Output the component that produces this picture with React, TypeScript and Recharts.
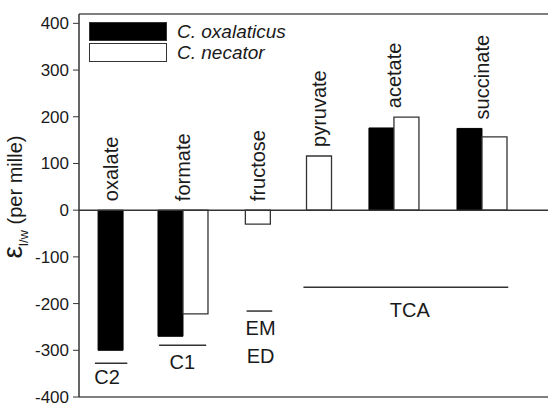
import { Bar, BarChart, Legend, ReferenceDot, ReferenceLine, XAxis, YAxis } from "recharts";

const substrates = ["oxalate", "formate", "fructose", "pyruvate", "acetate", "succinate"];
const substrateX = [1, 1.98, 3, 4, 5.43, 6.87];
const oxalaticus = [-300, -270, null, null, 176, 175];
const necator = [null, -222, -30, 116, 199, 157];
const yTicks = [-400, -300, -200, -100, 0, 100, 200, 300, 400];
const seriesNames = ["C. oxalaticus", "C. necator"];

const FONT = "'Liberation Sans', Arial, sans-serif";
const INK = "#1a1a1a";

// brackets under the bars that group the substrates by pathway
const groupMarks = [
  { lines: ["C2"], x1: 0.54, x2: 1.07, lineY: -328, textX: 0.74, textY: -357 },
  { lines: ["C1"], x1: 1.59, x2: 2.36, lineY: -289, textX: 1.97, textY: -325 },
  { lines: ["EM", "ED"], x1: 3.02, x2: 3.44, lineY: -216, textX: 3.25, textY: -253 },
  { lines: ["TCA"], x1: 3.95, x2: 7.3, lineY: -165, textX: 5.69, textY: -214 },
];

const data = substrates.map((name, i) => ({
  name,
  x: substrateX[i],
  oxalaticus: oxalaticus[i],
  necator: necator[i],
  top: Math.max(0, oxalaticus[i] ?? 0, necator[i] ?? 0),
  shift: necator[i] == null ? -12.5 : oxalaticus[i] == null ? 12.5 : 0,
}));

function YTitle() {
  return (
    <text
      transform="translate(22,197) rotate(-90)"
      textAnchor="middle"
      fontFamily={FONT}
      fontSize={20}
      fill={INK}
    >
      <tspan fontSize={28}>ε</tspan>
      <tspan fontSize={13} dy={6}>l/w</tspan>
      <tspan dy={-6}> (per mille)</tspan>
    </text>
  );
}

function LegendBox() {
  return (
    <div style={{ fontFamily: FONT, fontSize: 19, fontStyle: "italic", color: INK }}>
      {seriesNames.map((s, i) => (
        <div key={s} style={{ display: "flex", alignItems: "center", height: 21 }}>
          <span
            style={{
              display: "inline-block",
              width: 76,
              height: 17,
              background: i === 0 ? "#000" : "#fff",
              border: "1px solid #333",
              marginRight: 10,
            }}
          />
          {s}
        </div>
      ))}
    </div>
  );
}

export default function App() {
  return (
    <div style={{ position: "absolute", left: 0, top: 0, background: "#fff" }}>
      <BarChart
        width={548}
        height={403}
        data={data}
        margin={{ top: 14, right: 0, bottom: 0, left: 0 }}
        barGap={0}
        barSize={25}
      >
        <XAxis
          dataKey="x"
          type="number"
          domain={[0.28, 7.95]}
          ticks={substrateX}
          allowDataOverflow
          tick={false}
          tickLine={false}
          height={6}
          axisLine={{ stroke: "#555", strokeWidth: 1.5 }}
        />
        <YAxis
          width={79}
          domain={[-400, 420]}
          ticks={yTicks}
          interval={0}
          allowDataOverflow
          tickSize={6}
          tickMargin={4}
          tickLine={{ stroke: "#333" }}
          axisLine={{ stroke: "#333", strokeWidth: 1.5 }}
          tick={{ fontSize: 17, fill: INK, fontFamily: FONT }}
          label={<YTitle />}
        />
        <ReferenceLine y={420} stroke="#555" strokeWidth={1.5} />
        <ReferenceLine y={0} stroke="#333" strokeWidth={1.5} />
        <Legend
          layout="vertical"
          align="center"
          verticalAlign="middle"
          wrapperStyle={{ left: 89, top: 21, width: 260 }}
          content={<LegendBox />}
        />
        <Bar
          dataKey="oxalaticus"
          name={seriesNames[0]}
          fill="#000"
          stroke="#000"
          isAnimationActive={false}
        />
        <Bar
          dataKey="necator"
          name={seriesNames[1]}
          fill="#fff"
          stroke="#333"
          strokeWidth={1.3}
          isAnimationActive={false}
        />
        {data.map((d) => (
          <ReferenceDot
            key={d.name}
            x={d.x}
            y={d.top}
            r={0}
            shape={(p: { cx: number; cy: number }) => (
              <text
                transform={`translate(${p.cx + d.shift},${p.cy - 9}) rotate(-90)`}
                textAnchor="start"
                dominantBaseline="central"
                fontFamily={FONT}
                fontSize={20}
                fill={INK}
              >
                {d.name}
              </text>
            )}
          />
        ))}
        {groupMarks.map((g) => (
          <ReferenceLine
            key={g.lines[0] + "-line"}
            segment={[
              { x: g.x1, y: g.lineY },
              { x: g.x2, y: g.lineY },
            ]}
            stroke="#333"
            strokeWidth={1.5}
          />
        ))}
        {groupMarks.map((g) => (
          <ReferenceDot
            key={g.lines[0] + "-text"}
            x={g.textX}
            y={g.textY}
            r={0}
            shape={(p: { cx: number; cy: number }) => (
              <text
                x={p.cx}
                y={p.cy}
                textAnchor="middle"
                dominantBaseline="central"
                fontFamily={FONT}
                fontSize={20}
                fill={INK}
              >
                {g.lines.map((l, i) => (
                  <tspan key={l} x={p.cx} dy={i === 0 ? 0 : 28}>
                    {l}
                  </tspan>
                ))}
              </text>
            )}
          />
        ))}
      </BarChart>
    </div>
  );
}
